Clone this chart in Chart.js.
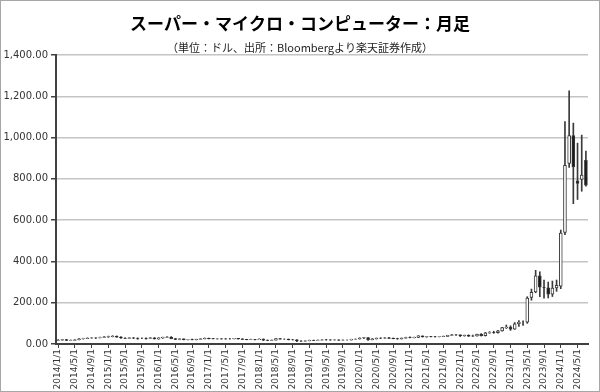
<!DOCTYPE html>
<html lang="ja">
<head>
<meta charset="utf-8">
<title>スーパー・マイクロ・コンピューター：月足</title>
<script src="https://cdn.jsdelivr.net/npm/chart.js@4.4.1/dist/chart.umd.min.js"></script>
<style>
  html,body{margin:0;padding:0;background:#fff;}
  #wrap{width:600px;height:392px;position:relative;}
</style>
</head>
<body>
<div id="wrap"><canvas id="chart" width="600" height="392"></canvas></div>
<script>
// 月足データ（2014/1〜2024/7、単位：ドル）
const titleText = 'スーパー・マイクロ・コンピューター：月足';
const subtitleText = '（単位：ドル、出所：Bloombergより楽天証券作成）';

const startYear = 2014, endYear = 2024, endMonth = 7;
const months = [];
for (let y = startYear; y <= endYear; y++) {
  for (let m = 1; m <= 12; m++) {
    if (y === endYear && m > endMonth) break;
    months.push(y + '/' + m + '/1');
  }
}

const openP = [
  17.2,19.1,21.2,17.4,17.6,20.7,25.3,26.4,29.0,29.4,30.0,31.5,
  34.9,35.6,37.3,33.2,29.1,27.6,29.6,28.3,27.3,27.3,27.1,30.1,
  24.5,29.9,32.2,34.1,26.1,21.7,24.9,20.9,21.0,20.8,22.7,25.1,
  28.0,26.3,25.0,25.4,24.7,24.6,24.6,26.9,24.9,22.1,21.4,22.0,
  20.9,24.4,18.9,17.0,19.0,25.7,23.6,23.6,20.8,20.6,14.7,14.1,
  15.6,17.5,17.0,18.5,20.8,19.9,19.3,20.0,18.3,19.2,19.2,22.9,
  24.1,29.1,30.5,21.3,24.9,28.6,28.4,29.8,27.4,26.4,24.8,28.1,
  31.7,30.1,32.2,39.0,34.8,35.7,35.2,35.0,36.0,36.6,41.6,44.7,
  43.9,39.9,42.3,38.1,39.5,46.7,40.4,54.0,55.8,55.1,63.5,79.4,
  82,72,98,106,106,226,252,330,275,272,241,272,
  280,540,875,1010,790,797,890
];
const highP = [
  21.3,22.5,22.8,19.9,21.4,26.2,27.9,30.1,30.8,32.0,33.4,36.4,
  38.3,40.5,39.2,35.8,30.2,30.8,31.5,29.7,29.8,29.9,31.2,31.0,
  30.5,33.4,35.9,35.6,26.9,25.8,25.3,22.4,23.4,23.6,26.3,29.2,
  28.9,27.2,26.7,26.5,25.8,26.9,27.7,27.3,25.3,23.0,23.5,22.6,
  25.6,24.8,19.5,19.5,26.4,26.6,25.0,24.1,22.4,21.0,16.4,16.3,
  19.1,19.2,19.6,21.9,22.2,20.6,21.4,20.3,20.2,20.5,23.3,24.7,
  30.5,32.5,31.5,26.3,29.1,30.5,31.4,32.0,29.2,28.0,29.5,33.0,
  34.3,33.9,40.7,39.3,37.0,37.4,36.6,37.2,38.7,42.4,46.3,45.9,
  44.8,43.5,44.6,43.4,48.2,50.5,56.4,60.1,61.8,66.3,80.4,92.1,
  88,104,113,112,229,266,357,350,310,300,305,310,
  552,1078,1226,1070,973,1012,934
];
const lowP = [
  16.6,18.2,16.9,15.8,17.0,20.1,23.4,25.6,27.2,25.9,29.1,30.8,
  31.9,34.2,32.3,26.9,26.5,26.9,26.2,22.8,25.9,22.8,26.4,24.0,
  22.6,27.2,30.9,25.2,20.9,20.4,19.9,19.6,19.9,19.5,21.6,24.7,
  24.9,24.1,23.5,23.4,22.9,23.8,24.1,23.6,21.4,20.3,20.9,20.2,
  20.5,16.5,15.9,16.3,18.6,22.8,21.9,19.7,18.9,11.0,12.9,13.1,
  14.6,16.5,16.4,18.2,18.6,17.4,18.3,16.9,17.9,18.3,19.0,21.9,
  23.6,26.4,17.6,19.8,23.9,26.2,27.1,26.7,25.1,23.1,23.9,27.6,
  29.6,29.4,30.6,33.5,32.9,34.1,33.2,34.2,35.3,35.8,40.4,41.1,
  36.0,37.6,36.0,35.8,37.9,38.4,38.6,51.6,51.8,52.6,61.8,75.0,
  66,71,85,90,100,212,248,229,222,223,230,255,
  268,530,855,680,700,740,765
];
const closeP = [
  19.1,21.2,17.4,17.6,20.7,25.3,26.4,29.0,29.4,30.0,31.5,34.9,
  35.6,37.3,33.2,29.1,27.6,29.6,28.3,27.3,27.3,27.1,30.1,24.5,
  29.9,32.2,34.1,26.1,21.7,24.9,20.9,21.0,20.8,22.7,25.1,28.0,
  26.3,25.0,25.4,24.7,24.6,24.6,26.9,24.9,22.1,21.4,22.0,20.9,
  24.4,18.9,17.0,19.0,25.7,23.6,23.6,20.8,20.6,14.7,14.1,15.6,
  17.5,17.0,18.5,20.8,19.9,19.3,20.0,18.3,19.2,19.2,22.9,24.1,
  29.1,30.5,21.3,24.9,28.6,28.4,29.8,27.4,26.4,24.8,28.1,31.7,
  30.1,32.2,39.0,34.8,35.7,35.2,35.0,36.0,36.6,41.6,44.7,43.9,
  39.9,42.3,38.1,39.5,46.7,40.4,54.0,55.8,55.1,63.5,79.4,82.1,
  72,98,106,106,222,250,330,275,274,241,271,284,
  537,866,1010,858,778,818,770
];

const yMin = 0, yMax = 1400, yStep = 200;

// タイトルと枠線
const framePlugin = {
  id: 'frame',
  beforeDraw(chart){
    const c = chart.ctx;
    c.save();
    c.fillStyle = '#fff';
    c.fillRect(0, 0, chart.width, chart.height);
    c.restore();
  },
  afterDraw(chart){
    const c = chart.ctx;
    c.save();
    c.strokeStyle = '#a6a6a6';
    c.lineWidth = 1;
    c.strokeRect(0.5, 0.5, chart.width - 1, chart.height - 1);
    c.fillStyle = '#000';
    c.textAlign = 'center';
    c.textBaseline = 'middle';
    c.font = 'bold 17px "Noto Sans CJK JP"';
    c.fillText(titleText, 300, 24);
    c.fillStyle = '#222';
    c.font = '11px "Noto Sans CJK JP"';
    c.fillText(subtitleText, 300, 48);
    c.restore();
  }
};

document.addEventListener('DOMContentLoaded', () => {
  const bodies = months.map((m, i) => [openP[i], closeP[i]]);
  const wicks = months.map((m, i) => [lowP[i], highP[i]]);
  const bodyFill = months.map((m, i) => closeP[i] >= openP[i] ? '#ffffff' : '#1a1a1a');

  new Chart(document.getElementById('chart').getContext('2d'), {
    type: 'bar',
    data: {
      labels: months,
      datasets: [
        {
          label: '実体',
          data: bodies,
          grouped: false,
          order: 0,
          barThickness: 3,
          backgroundColor: bodyFill,
          borderColor: '#3a3a3a',
          borderWidth: 1,
          borderSkipped: false
        },
        {
          label: 'ヒゲ',
          data: wicks,
          grouped: false,
          order: 1,
          barThickness: 1,
          backgroundColor: '#3a3a3a',
          borderWidth: 0
        }
      ]
    },
    options: {
      responsive: false,
      animation: false,
      layout: {padding: {top: 55, right: 12, left: 0, bottom: 0}},
      plugins: {legend: {display: false}, tooltip: {enabled: false}},
      scales: {
        x: {
          grid: {
            drawOnChartArea: false,
            offset: false,
            tickLength: 4,
            tickColor: ctx => ctx.index % 4 === 0 ? '#404040' : 'rgba(0,0,0,0)'
          },
          border: {color: '#404040', width: 2},
          ticks: {
            autoSkip: false,
            minRotation: 90,
            maxRotation: 90,
            padding: 1,
            color: '#333',
            font: {family: 'DejaVu Sans', size: 9},
            callback: (v, i) => i % 4 === 0 ? months[i] : ''
          },
          afterFit: s => { s.height = 48; }
        },
        y: {
          min: yMin,
          max: yMax,
          grid: {color: '#c4c4c4', lineWidth: 1.5, tickLength: 5, tickColor: '#404040'},
          border: {color: '#404040', width: 2},
          ticks: {
            stepSize: yStep,
            padding: 3,
            color: '#333',
            font: {family: 'DejaVu Sans', size: 10},
            callback: v => v.toLocaleString('en-US', {minimumFractionDigits: 2, maximumFractionDigits: 2})
          },
          afterFit: s => { s.width = 56; }
        }
      }
    },
    plugins: [framePlugin]
  });
});
</script>
</body>
</html>
